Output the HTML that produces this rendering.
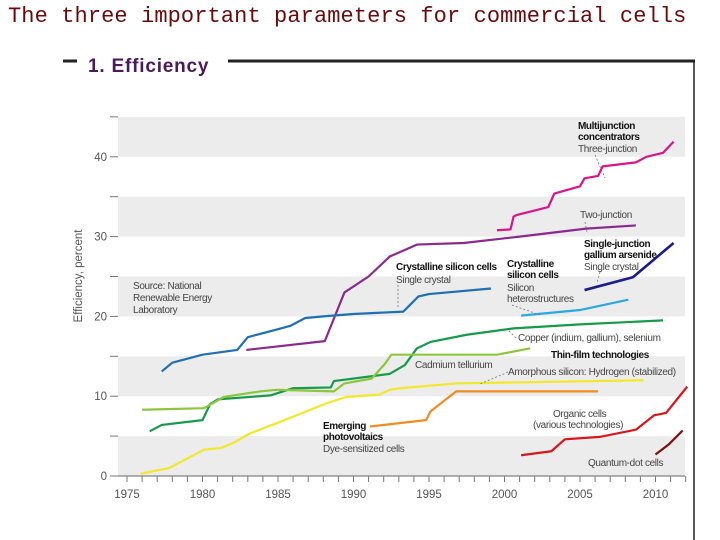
<!DOCTYPE html>
<html><head><meta charset="utf-8"><style>
body{margin:0;width:720px;height:540px;background:#fff;overflow:hidden;position:relative;font-family:"Liberation Sans",sans-serif}
#title{position:absolute;left:8px;top:4px;font-family:"Liberation Mono",monospace;font-size:22px;color:#6b0a0a;white-space:nowrap;letter-spacing:0.1px}
#sub{position:absolute;left:88px;top:56px;font-size:19px;font-weight:bold;color:#4b1a5a;letter-spacing:0.8px}
svg{position:absolute;left:0;top:0}
.a{font-family:"Liberation Sans Narrow","Liberation Sans",sans-serif;font-size:10px;fill:#444;letter-spacing:-0.35px}
.b{font-family:"Liberation Sans Narrow","Liberation Sans",sans-serif;font-size:10px;fill:#111;font-weight:bold;letter-spacing:-0.4px}
.t{font-family:"Liberation Sans Narrow","Liberation Sans",sans-serif;font-size:11.5px;fill:#555}
</style></head><body>
<div id="title">The three important parameters for commercial cells</div>
<div id="sub">1. Efficiency</div>
<svg width="720" height="540">
<line x1="63" y1="61" x2="77" y2="61" stroke="#222" stroke-width="3"/>
<line x1="228" y1="61" x2="695" y2="61" stroke="#222" stroke-width="3"/>
<line x1="694" y1="61" x2="694" y2="540" stroke="#222" stroke-width="1.5"/>
<g id="bands"></g><g id="axes"></g><g id="lines"></g>
<g>
<text class="a" x="133" y="289">Source: National</text>
<text class="a" x="133" y="301">Renewable Energy</text>
<text class="a" x="133" y="313">Laboratory</text>
<text class="b" x="578" y="129">Multijunction</text>
<text class="b" x="578" y="140">concentrators</text>
<text class="a" x="578" y="152">Three-junction</text>
<text class="a" x="580" y="218">Two-junction</text>
<text class="b" x="584" y="247">Single-junction</text>
<text class="b" x="584" y="258">gallium arsenide</text>
<text class="a" x="584" y="270">Single crystal</text>
<text class="b" x="396" y="270">Crystalline silicon cells</text>
<text class="a" x="396" y="283">Single crystal</text>
<text class="b" x="507" y="267">Crystalline</text>
<text class="b" x="507" y="278">silicon cells</text>
<text class="a" x="507" y="291">Silicon</text>
<text class="a" x="507" y="302">heterostructures</text>
<text class="a" x="518" y="341">Copper (indium, gallium), selenium</text>
<text class="b" x="551" y="358">Thin-film technologies</text>
<text class="a" x="415" y="368">Cadmium tellurium</text>
<text class="a" x="508" y="375">Amorphous silicon: Hydrogen (stabilized)</text>
<text class="a" x="553" y="417">Organic cells</text>
<text class="a" x="533" y="428">(various technologies)</text>
<text class="a" x="588" y="466">Quantum-dot cells</text>
<text class="b" x="323" y="429">Emerging</text>
<text class="b" x="323" y="440">photovoltaics</text>
<text class="a" x="323" y="452">Dye-sensitized cells</text>
<g stroke="#777" stroke-width="0.8" stroke-dasharray="2,2" fill="none">
<path d="M398 285 L398 308"/><path d="M595 155 L605 178"/><path d="M585 222 L587 232"/><path d="M600 272 L597 283"/><path d="M512 305 L540 315"/><path d="M516 338 L508 330"/><path d="M508 372 L480 384"/>
</g>
</g>
</svg>
<script>
const yearTicks=[1975,1980,1985,1990,1995,2000,2005,2010];
const valueTicks=[0,10,20,30,40];
const bandStarts=[0,10,20,30,40];
const multiYears=[1999.5,2000.4,2000.6,2000.8,2002.9,2003.3,2005,2005.3,2006.2,2006.5,2008.7,2009.4,2010.5,2011.2];
const multiVals=[30.8,30.9,32.5,32.7,33.7,35.4,36.3,37.3,37.6,38.8,39.3,40,40.5,41.9];
const twoYears=[1982.9,1988.1,1989.4,1991,1992.4,1994.2,1997.3,2001,2005.4,2008.7];
const twoVals=[15.8,16.9,23,25,27.5,29,29.2,30,31,31.4];
const gaasYears=[2005.3,2008.5,2011.2];
const gaasVals=[23.3,24.9,29.2];
const siYears=[1977.3,1978,1979,1980,1982.3,1983,1984,1985,1985.8,1986.8,1988,1990,1993.3,1994.3,1995,1999.1];
const siVals=[13.1,14.2,14.7,15.2,15.8,17.4,17.9,18.4,18.8,19.8,20,20.3,20.6,22.5,22.8,23.5];
const hetYears=[2001.1,2005,2008.2];
const hetVals=[20.1,20.8,22.1];
const cigsYears=[1976.5,1977.3,1980,1980.5,1981,1984.5,1986,1988.5,1988.7,1992.4,1993.4,1994.2,1995.1,1997.5,2000.6,2005,2010.5];
const cigsVals=[5.6,6.4,7,9,9.6,10.1,11,11.1,11.9,12.8,13.9,16,16.8,17.7,18.5,19,19.5];
const cdteYears=[1976,1980.1,1981.4,1983.8,1984.9,1988.7,1989.4,1991.2,1992.1,1992.5,1999.5,2001.7];
const cdteVals=[8.3,8.5,9.9,10.6,10.8,10.6,11.6,12.2,14.1,15.2,15.2,16];
const asiYears=[1975.9,1977.8,1979,1980.1,1981.2,1982,1983.1,1984.9,1988.2,1989.5,1991.7,1992.4,1993.1,1996.8,2009.2];
const asiVals=[0.3,1,2.2,3.3,3.5,4.1,5.3,6.6,9.1,9.9,10.2,10.8,11,11.6,12];
const dyeYears=[1991.1,1994.8,1995.1,1996.8,2006.2];
const dyeVals=[6.2,7,8.1,10.6,10.6];
const orgYears=[2001.1,2003.1,2004,2006.3,2008.7,2009.9,2010.7,2012.1];
const orgVals=[2.6,3.1,4.6,4.9,5.8,7.6,7.9,11.2];
const qdYears=[2010,2010.9,2011.8];
const qdVals=[2.7,4,5.7];

const X=y=>127+(y-1975)*15.1;
const Y=v=>476-v*7.98;
const NS='http://www.w3.org/2000/svg';
function mk(tag,parent){const e=document.createElementNS(NS,tag);document.getElementById(parent).appendChild(e);return e;}
bandStarts.forEach(b=>{
  const r=mk('rect','bands');
  
  
  r.setAttribute('x',118);r.setAttribute('width',567);r.setAttribute('y',Y(b+5));r.setAttribute('height',Y(b)-Y(b+5));r.setAttribute('fill','#ececec');
});
const ax=mk('line','axes');


ax.setAttribute('x1',118);ax.setAttribute('x2',685);ax.setAttribute('y1',476);ax.setAttribute('y2',476);ax.setAttribute('stroke','#666');
for(let yr=1975;yr<=2012;yr++){
  const t=mk('line','axes');
  
  
  t.setAttribute('x1',X(yr));t.setAttribute('x2',X(yr));t.setAttribute('y1',476);t.setAttribute('y2',482);t.setAttribute('stroke','#777');
}
yearTicks.forEach(yr=>{
  const t=mk('text','axes');
  
  
  t.setAttribute('class','t');t.setAttribute('x',X(yr));t.setAttribute('y',498);t.setAttribute('text-anchor','middle');t.textContent=yr;
});
for(let v=0;v<=45;v+=5){
  const t=mk('line','axes');
  
  
  t.setAttribute('x1',110);t.setAttribute('x2',118);t.setAttribute('y1',Y(v));t.setAttribute('y2',Y(v));t.setAttribute('stroke','#777');
}
valueTicks.forEach(v=>{
  const t=mk('text','axes');
  
  
  t.setAttribute('class','t');t.setAttribute('x',107);t.setAttribute('y',Y(v)+4);t.setAttribute('text-anchor','end');t.textContent=v;
});
const yt=mk('text','axes');


yt.setAttribute('class','t');yt.setAttribute('transform','translate(82,276) rotate(-90)');yt.setAttribute('text-anchor','middle');yt.textContent='Efficiency, percent';
function series(xs,vs,color,name,w){
  const p=mk('polyline','lines');
  
  
  p.setAttribute('points',xs.map((x,i)=>X(x)+','+Y(vs[i])).join(' '));
  p.setAttribute('fill','none');p.setAttribute('stroke',color);p.setAttribute('stroke-width',w||2.2);p.setAttribute('stroke-linejoin','round');
}
series(multiYears,multiVals,'#d6168a','three-junction-line');
series(twoYears,twoVals,'#8b2a8e','two-junction-line');
series(gaasYears,gaasVals,'#1b1b8a','gaas-line',2.6);
series(siYears,siVals,'#1f6fb2','crystalline-si-line');
series(hetYears,hetVals,'#2aa9e0','heterostructure-line');
series(cigsYears,cigsVals,'#179a4a','cigs-line');
series(cdteYears,cdteVals,'#8cc63f','cdte-line');
series(asiYears,asiVals,'#f2e82a','amorphous-si-line');
series(dyeYears,dyeVals,'#f08c22','dye-sensitized-line');
series(orgYears,orgVals,'#d9161c','organic-line');
series(qdYears,qdVals,'#7a1010','quantum-dot-line');
</script>
</body></html>
